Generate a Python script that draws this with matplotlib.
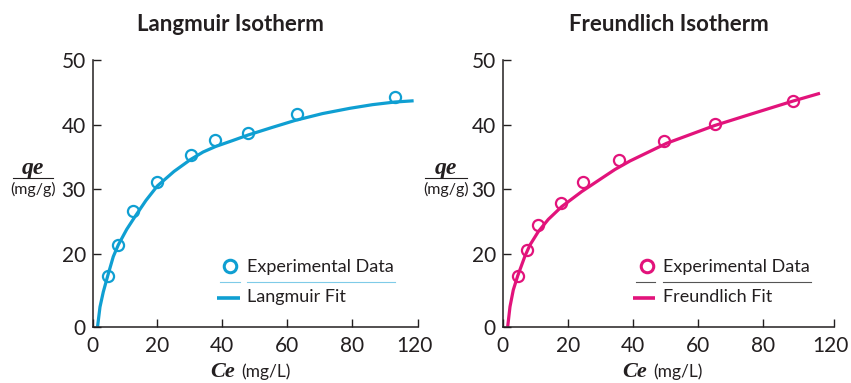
import numpy as np
import matplotlib.pyplot as plt
from matplotlib.lines import Line2D
from matplotlib.transforms import ScaledTranslation

# --- Experimental data: Ce (mg/L), qe (mg/g) ---
lang_ce = [4.6, 7.9, 12.4, 19.9, 30.4, 37.8, 48.1, 63.0, 106.0]
lang_qe = [14.1, 21.4, 26.6, 31.1, 35.4, 37.6, 38.7, 41.6, 44.3]

freu_ce = [4.6, 7.4, 10.9, 17.8, 24.7, 35.7, 49.6, 65.2, 96.9]
freu_qe = [14.0, 20.6, 24.5, 27.9, 31.2, 34.5, 37.5, 40.1, 43.7]

# --- Fitted isotherm curves (sampled) ---
lang_fit_ce = [1.5, 2.25, 3.27, 4.63, 6.36, 7.91, 10.5, 13.07, 16.46, 19.95,
               25.11, 30.27, 34.13, 37.99, 43.03, 48.06, 55.29, 62.49,
               70.98, 79.48, 92.49, 106.0, 117.2]
lang_fit_qe = [0.0, 5.44, 9.59, 14.0, 19.34, 21.44, 23.83, 25.81, 28.31, 30.53,
               32.78, 34.64, 35.79, 36.64, 37.52, 38.42, 39.56, 40.66,
               41.72, 42.54, 43.10, 43.51, 43.70]

freu_fit_ce = [1.53, 2.24, 3.25, 4.60, 6.85, 8.39, 10.93, 14.0, 18.11, 24.25,
               30.39, 34.47, 39.08, 50.35, 65.08, 75.83, 96.90, 111.94]
freu_fit_qe = [0.0, 5.52, 10.14, 14.01, 19.53, 21.44, 23.49, 25.38, 27.35, 29.67,
               31.73, 33.09, 34.40, 37.14, 39.88, 41.58, 43.67, 44.86]

# --- Tick labels ---
x_ticks = [0, 20, 40, 60, 80, 120]
y_ticks = [0, 20, 30, 40, 50]

# axes are drawn with uneven spacing (0-20 on y and 80-120 on x squeezed)
y_breaks, y_pos = [0, 20, 50], [8.8, 20, 50]
x_breaks = [0, 80, 120]
lang_x_pos = [0, 80, 100.6]
freu_x_pos = [0, 80, 101.8]

CYAN = '#0f9fd2'
MAGENTA = '#e2137b'
TEXT = '#231f20'

W, H = 851, 383
SANS = 'Lato'
SERIF = 'Liberation Serif'


def fx(px):
    return px / W


def fy(py):
    return 1 - py / H


def piecewise(breaks, pos):
    fwd = lambda v: np.interp(v, breaks, pos)
    inv = lambda p: np.interp(p, pos, breaks)
    return fwd, inv


def style_axes(ax, x_pos):
    ax.set_xscale('function', functions=piecewise(x_breaks, x_pos))
    ax.set_yscale('function', functions=piecewise(y_breaks, y_pos))
    ax.set_xlim(0, 120)
    ax.set_ylim(0, 50)
    ax.set_xticks(x_ticks)
    ax.set_yticks(y_ticks)
    ax.set_xticklabels([str(t) for t in x_ticks])
    ax.set_yticklabels([str(t) for t in y_ticks])
    ax.minorticks_off()
    for side in ['top', 'right']:
        ax.spines[side].set_visible(False)
    for side in ['left', 'bottom']:
        ax.spines[side].set_linewidth(1.1)
        ax.spines[side].set_color(TEXT)
    ax.tick_params(direction='in', length=5.5, width=1.0, color=TEXT,
                   labelsize=15, labelcolor=TEXT)
    ax.tick_params(axis='y', pad=5)
    ax.tick_params(axis='x', pad=7)
    for lab in ax.get_xticklabels() + ax.get_yticklabels():
        lab.set_fontfamily(SANS)
    # pull the last x label slightly left so it stays inside the figure
    last = ax.xaxis.get_major_ticks()[-1].label1
    last.set_transform(last.get_transform()
                       + ScaledTranslation(-4 / 100, 0, fig.dpi_scale_trans))


def draw_panel(ax, ce, qe, fit_ce, fit_qe, color):
    ax.plot(fit_ce, fit_qe, color=color, lw=2.3, solid_capstyle='butt',
            solid_joinstyle='round', zorder=2, clip_on=False)
    ax.plot(ce, qe, 'o', ms=8, mfc='none', mec=color, mew=1.6, zorder=3,
            clip_on=False)


def draw_labels(title, title_x, bar_x0, bar_x1, ce_right, unit_left):
    fig.text(fx(title_x), fy(31), title, ha='center', va='baseline',
             fontsize=16, fontweight='bold', family=SANS, color=TEXT)
    # y label as a fraction: qe over (mg/g)
    mid = (bar_x0 + bar_x1) / 2
    fig.text(fx(mid), fy(174), 'qe', ha='center', va='baseline',
             fontsize=17, fontweight='bold', fontstyle='italic',
             family=SERIF, color=TEXT)
    fig.add_artist(Line2D([fx(bar_x0), fx(bar_x1)], [fy(178.5), fy(178.5)],
                          color=TEXT, lw=0.8))
    fig.text(fx(mid), fy(194), '(mg/g)', ha='center', va='baseline',
             fontsize=11.5, family=SANS, color=TEXT)
    # x label
    fig.text(fx(ce_right), fy(377), 'Ce', ha='right', va='baseline',
             fontsize=16, fontweight='bold', fontstyle='italic',
             family=SERIF, color=TEXT)
    fig.text(fx(unit_left), fy(376.5), '(mg/L)', ha='left', va='baseline',
             fontsize=12.5, family=SANS, color=TEXT)


def draw_legend(marker_x, line_x0, line_x1, text_x, text_x1, fit_label,
                color, rule_color):
    fig.add_artist(Line2D([fx(marker_x)], [fy(266)], marker='o', ms=9,
                          mfc='none', mec=color, mew=2.2, ls='none'))
    fig.text(fx(text_x), fy(272.3), 'Experimental Data', ha='left',
             va='baseline', fontsize=13, family=SANS, color=TEXT)
    # thin rules under the first entry
    fig.add_artist(Line2D([fx(line_x0 + 3), fx(line_x1)], [fy(281.7)] * 2,
                          color=rule_color, lw=0.8))
    fig.add_artist(Line2D([fx(text_x), fx(text_x1)], [fy(281.7)] * 2,
                          color=rule_color, lw=0.8))
    fig.add_artist(Line2D([fx(line_x0), fx(line_x1)], [fy(297.5)] * 2,
                          color=color, lw=2.6, solid_capstyle='butt'))
    fig.text(fx(text_x), fy(302), fit_label, ha='left', va='baseline',
             fontsize=13, family=SANS, color=TEXT)


fig = plt.figure(figsize=(W / 100, H / 100), dpi=100)

ax1 = fig.add_axes([fx(92.7), fy(326.7), fx(418.3) - fx(92.7),
                    fy(60) - fy(326.7)])
ax2 = fig.add_axes([fx(502.7), fy(326.7), fx(834.3) - fx(502.7),
                    fy(60) - fy(326.7)])

style_axes(ax1, lang_x_pos)
style_axes(ax2, freu_x_pos)

draw_panel(ax1, lang_ce, lang_qe, lang_fit_ce, lang_fit_qe, CYAN)
draw_panel(ax2, freu_ce, freu_qe, freu_fit_ce, freu_fit_qe, MAGENTA)

draw_labels('Langmuir Isotherm', 230, 13.3, 52.7, 235, 241.7)
draw_labels('Freundlich Isotherm', 669, 425, 466.7, 647, 653)

draw_legend(230, 217.3, 240, 246.7, 395, 'Langmuir Fit', CYAN, '#7fcbe8')
draw_legend(646.7, 633.3, 655, 662.7, 810.7, 'Freundlich Fit', MAGENTA,
            '#555555')

fig.savefig('out.png', dpi=100)
